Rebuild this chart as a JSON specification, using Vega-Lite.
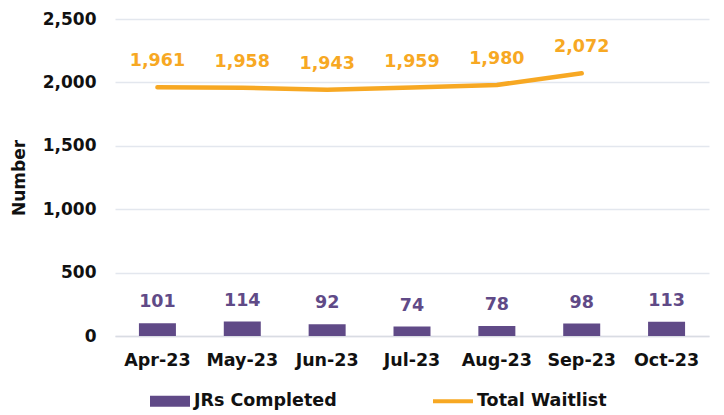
{
  "$schema": "https://vega.github.io/schema/vega-lite/v6.json",
  "width": 594,
  "height": 317,
  "padding": {"left": 10, "top": 10, "right": 10, "bottom": 5},
  "background": "white",
  "config": {
    "font": "DejaVu Sans",
    "view": {"stroke": null},
    "axis": {"labelFont": "DejaVu Sans", "titleFont": "DejaVu Sans"}
  },
  "data": {
    "values": [
      {"month": "Apr-23", "series": "JRs Completed", "value": 101},
      {"month": "May-23", "series": "JRs Completed", "value": 114},
      {"month": "Jun-23", "series": "JRs Completed", "value": 92},
      {"month": "Jul-23", "series": "JRs Completed", "value": 74},
      {"month": "Aug-23", "series": "JRs Completed", "value": 78},
      {"month": "Sep-23", "series": "JRs Completed", "value": 98},
      {"month": "Oct-23", "series": "JRs Completed", "value": 113},
      {"month": "Apr-23", "series": "Total Waitlist", "value": 1961},
      {"month": "May-23", "series": "Total Waitlist", "value": 1958},
      {"month": "Jun-23", "series": "Total Waitlist", "value": 1943},
      {"month": "Jul-23", "series": "Total Waitlist", "value": 1959},
      {"month": "Aug-23", "series": "Total Waitlist", "value": 1980},
      {"month": "Sep-23", "series": "Total Waitlist", "value": 2072}
    ]
  },
  "encoding": {
    "x": {
      "field": "month",
      "type": "ordinal",
      "sort": null,
      "scale": {"paddingInner": 0, "paddingOuter": 0},
      "axis": {
        "title": null,
        "labelAngle": 0,
        "labelFontSize": 17.5,
        "labelFontWeight": "bold",
        "labelColor": "#111111",
        "labelPadding": 15,
        "ticks": false,
        "domainColor": "#D9DCE3",
        "domainWidth": 1.5
      }
    },
    "y": {
      "field": "value",
      "type": "quantitative",
      "scale": {"domain": [0, 2500], "nice": false},
      "axis": {
        "title": "Number",
        "titleFontSize": 17,
        "titleFontWeight": "bold",
        "titleColor": "#111111",
        "titlePadding": 14,
        "labelFontSize": 17,
        "labelFontWeight": "bold",
        "labelColor": "#111111",
        "labelPadding": 19,
        "values": [0, 500, 1000, 1500, 2000, 2500],
        "format": ",d",
        "ticks": false,
        "domain": false,
        "gridColor": "#E3E7EE",
        "gridWidth": 1.5
      }
    },
    "color": {
      "field": "series",
      "type": "nominal",
      "scale": {"domain": ["JRs Completed", "Total Waitlist"], "range": ["#604A87", "#F7A823"]},
      "legend": {
        "title": null,
        "orient": "none",
        "legendX": 35,
        "legendY": 362,
        "direction": "horizontal",
        "labelFontSize": 17.5,
        "labelFontWeight": "bold",
        "labelColor": "#111111",
        "symbolSize": 1600,
        "symbolStrokeWidth": 0,
        "columnPadding": 96,
        "labelOffset": 4,
        "encode": {
          "symbols": {
            "update": {
              "shape": {"signal": "datum.value === 'JRs Completed' ? 'M-1,-0.28H1V0.28H-1Z' : 'M-1,-0.1H1V0.1H-1Z'"},
              "fillOpacity": {"value": 1}
            }
          }
        }
      }
    }
  },
  "layer": [
    {
      "transform": [{"filter": "datum.series === 'JRs Completed'"}],
      "mark": {"type": "bar", "size": 37},
      "encoding": {}
    },
    {
      "transform": [{"filter": "datum.series === 'JRs Completed'"}],
      "mark": {"type": "text", "dy": -21, "fontSize": 17.5, "fontWeight": "bold", "baseline": "middle"},
      "encoding": {"text": {"field": "value", "type": "quantitative", "format": ",d"}}
    },
    {
      "transform": [{"filter": "datum.series === 'Total Waitlist'"}],
      "mark": {"type": "line", "strokeWidth": 4.5, "strokeCap": "round", "strokeJoin": "round"},
      "encoding": {}
    },
    {
      "transform": [{"filter": "datum.series === 'Total Waitlist'"}],
      "mark": {"type": "text", "dy": -26, "fontSize": 17.5, "fontWeight": "bold", "baseline": "middle"},
      "encoding": {"text": {"field": "value", "type": "quantitative", "format": ",d"}}
    }
  ]
}
